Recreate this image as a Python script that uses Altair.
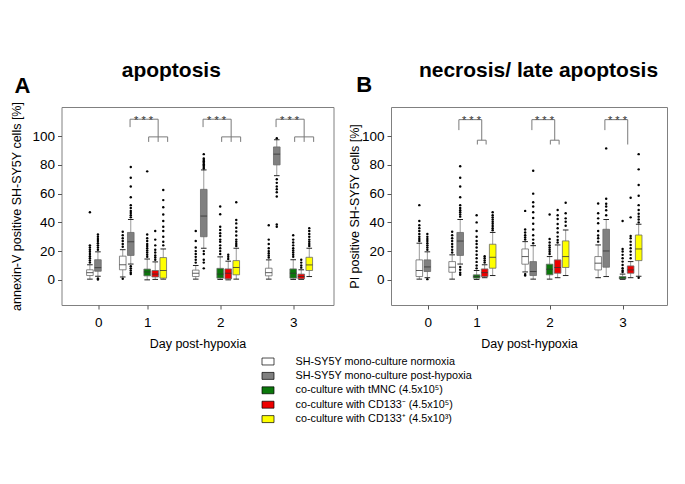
import altair as alt
import pandas as pd

FONT = "Liberation Sans"

groups = ["SH-SY5Y mono-culture normoxia", "SH-SY5Y mono-culture post-hypoxia",
          "co-culture with tMNC (4.5x10⁵)", "co-culture with CD133⁻ (4.5x10⁵)",
          "co-culture with CD133⁺ (4.5x10³)"]
colors = ["#ffffff", "#808080", "#0b780b", "#ee0000", "#ffff00"]

day_labels = ["0", "1", "2", "3"]
day_center = [0.55, 1.0, 2.0, 3.0]
tick_pos = [0.33, 1.0, 2.0, 3.0]
group_offset = [-0.335, -0.225, 0.0, 0.11, 0.22]

# box statistics per day: [whisker low, q1, median, q3, whisker high]
A_normoxia = [[0.5, 3, 5, 7, 10.5], [2, 7, 10.5, 16.5, 21], [0.5, 2.3, 4.6, 6.8, 10], [0.5, 2.8, 5, 8.1, 13.9]]
A_hypoxia = [[2.5, 6, 8.5, 14, 19.5], [11, 17, 26.5, 33, 42], [22, 30, 44.4, 63, 76.5], [72.5, 80, 87.5, 92.5, 97.5]]
A_tmnc = [None, [0, 2.8, 5.5, 7.5, 14.5], [0.3, 1.2, 4, 8, 16], [0.3, 1.2, 4.6, 7.6, 14]]
A_cd133neg = [None, [0.3, 2, 4, 6.5, 12.5], [0, 0.7, 4.6, 7.6, 13], [0.3, 0.7, 2.3, 4, 7]]
A_cd133pos = [None, [0.5, 1.2, 6.5, 15.5, 21.5], [0.5, 3.5, 8.6, 13.4, 22], [2.3, 6.5, 10.4, 15.7, 22]]

A_normoxia_out = [[12, 13.5, 15, 16.5, 18, 19.5, 21, 22.5, 24, 47], [23, 25, 27, 29, 31, 33.5, 0.8],
                  [12, 14, 16, 18, 20, 22.5, 27, 34], [15.5, 17, 18.5, 20, 22, 25, 28, 38]]
A_hypoxia_out = [[21, 22.5, 24, 25.5, 27, 28.5, 30, 31.5, 1, 0.3],
                 [43.5, 45, 46.5, 48, 50, 52, 57.5, 65, 71, 78.5, 9.5, 8, 6.5, 5, 4],
                 [77.5, 78.5, 79.5, 80.5, 81.5, 82.5, 83.5, 84.5, 87.5, 20, 18, 14, 12, 8],
                 [98.5, 70, 67.5, 65, 63, 61, 58, 38.5, 37]]
A_tmnc_out = [[], [16, 17.5, 19, 20.5, 22, 23.5, 25, 27, 29, 31.5, 75.5],
              [18, 20, 22, 24, 26.5, 28, 30.5, 32.5, 34.7, 37, 45.6, 51],
              [16, 17.5, 19, 20.5, 22, 24, 26, 28, 31]]
A_cd133neg_out = [[], [14, 15.5, 17, 19, 21, 24, 28, 34], [14.5, 16, 17.5], [8.5, 10, 12, 14]]
A_cd133pos_out = [[], [24, 26.5, 30, 34, 37, 41, 45.5, 50.5, 55.5, 62.5],
                  [23.5, 25, 26.5, 28, 30.8, 33.6, 36.3, 39.3, 41.7, 54],
                  [23.5, 25, 26.5, 28, 30, 32, 34, 36]]

B_normoxia = [[0.5, 2.3, 6.5, 13.9, 25.5], [0.5, 5.3, 8.8, 12.7, 17.4], [5.5, 10.9, 16.2, 21.5, 26.6], [1.5, 6.9, 11.6, 16.2, 24.3]]
B_hypoxia = [[1.5, 5.8, 9, 13.9, 19.5], [11, 17, 27, 33, 42], [0.5, 3, 5.8, 12.7, 23.8], [2.3, 8.8, 20.1, 35.2, 42]]
B_tmnc = [None, [0.3, 1.2, 2.3, 3.5, 6.5], [0.5, 3.5, 7.4, 10.9, 16.2], [0.3, 0.7, 1.2, 2.3, 4]]
B_cd133neg = [None, [1.5, 2.3, 5, 7.6, 10.5], [1.5, 4.6, 8.6, 13.9, 24.3], [1.5, 4.6, 6.9, 9.7, 12.7]]
B_cd133pos = [None, [3, 8.1, 15.7, 24.8, 33], [3, 8.6, 16.2, 27.1, 34.7], [2.5, 13.4, 21.5, 31.2, 38.7]]

B_normoxia_out = [[27, 28.5, 30, 32, 34, 36, 38, 41, 52], [19, 21, 23, 25, 27, 29, 31, 33.5],
                  [28, 29.5, 31, 33, 35, 48, 4, 3], [26.6, 29, 30.8, 34, 39.4, 42.8, 46.3, 53.2]]
B_hypoxia_out = [[21, 22.5, 24, 25.5, 27, 28.5, 30, 32, 0.5],
                 [44, 45.5, 47, 48.5, 50, 52, 57.5, 65, 71, 79, 9, 7, 5, 3.5],
                 [25.5, 28, 31, 35, 39, 43, 47, 51, 54, 60, 76],
                 [45, 48.5, 51, 53, 56.5, 91.5]]
B_tmnc_out = [[], [8, 10, 12.5, 15, 17.5, 20, 22.5, 25, 27, 30, 34, 40, 45],
              [18, 19.5, 21, 22.5, 24, 26, 28.5, 45.5],
              [5.5, 6.5, 8.1, 10.4, 12.7, 15, 17.4, 19.7, 21.5, 41]]
B_cd133neg_out = [[], [12, 13.5, 15, 16.5], [26, 27.8, 30.1, 32.9, 35.9, 38.9, 42.4, 45, 48.6],
                  [15, 17.4, 19.7, 22, 24.3, 26.6, 29, 30.6, 43.5, 57.2]]
B_cd133pos_out = [[], [34.5, 36, 37.5, 39, 40.5, 42, 43.5, 45, 47], [37.7, 40.5, 42.8, 46.3, 53.7],
                  [40, 42, 44, 46, 48.6, 52, 58.6, 66, 76.9, 87.5, 1.5]]

sig_days = [1, 2, 3]


def build(stats_list, outs_list):
    rows, pts = [], []
    for gi, (stats, outs) in enumerate(zip(stats_list, outs_list)):
        for d, s in enumerate(stats):
            if s is None:
                continue
            x = day_center[d] + group_offset[gi]
            rows.append(dict(group=groups[gi], x=x, lo=s[0], q1=s[1], med=s[2], q3=s[3], hi=s[4]))
            for v in outs[d]:
                pts.append(dict(x=x, v=v))
    return pd.DataFrame(rows), pd.DataFrame(pts)


def brackets_A():
    segs, stars = [], []
    for d in sig_days:
        left, stem, c1, c2 = d - 0.235, d + 0.15, d + 0.02, d + 0.28
        segs += [dict(x=left, x2=left, y=106.3, y2=111.8), dict(x=left, x2=stem, y=111.8, y2=111.8),
                 dict(x=stem, x2=stem, y=96, y2=111.8), dict(x=c1, x2=c2, y=99.5, y2=99.5),
                 dict(x=c1, x2=c1, y=96, y2=99.5), dict(x=c2, x2=c2, y=96, y2=99.5)]
        stars.append(dict(x=d - 0.05, y=108.6))
    return pd.DataFrame(segs), pd.DataFrame(stars)


def brackets_B():
    segs, stars = [], []
    for d in sig_days:
        left, stem, c1, c2 = d - 0.243, d + 0.07, d + 0.01, d + 0.13
        segs += [dict(x=left, x2=left, y=104.2, y2=111.5), dict(x=left, x2=stem, y=111.5, y2=111.5),
                 dict(x=stem, x2=stem, y=94.2 if d == 3 else 97.2, y2=111.5)]
        if d != 3:
            segs += [dict(x=c1, x2=c2, y=97.2, y2=97.2), dict(x=c1, x2=c1, y=94.2, y2=97.2),
                     dict(x=c2, x2=c2, y=94.2, y2=97.2)]
        stars.append(dict(x=d - 0.07, y=108.3))
    return pd.DataFrame(segs), pd.DataFrame(stars)


def panel(stats, outs, br, xdom, width, ytitle, ytpad, letter, letter_x, letter_y, title, title_x, legend):
    box_df, pt_df = build(stats, outs)
    seg_df, star_df = br
    xaxis = alt.Axis(values=tick_pos, labelExpr="'' + round(datum.value)", title="Day post-hypoxia",
                     labelPadding=6, titlePadding=9)
    yaxis = alt.Axis(values=[0, 20, 40, 60, 80, 100], title=ytitle, labelPadding=3, titlePadding=ytpad)
    xs = alt.Scale(domain=xdom, nice=False, zero=False)
    ys = alt.Scale(domain=[-17.5, 120.3], nice=False, zero=False)

    def X(f):
        return alt.X(f, type="quantitative", scale=xs, axis=xaxis)

    def Y(f):
        return alt.Y(f, type="quantitative", scale=ys, axis=yaxis)

    base = alt.Chart(box_df)
    whisk = base.mark_rule(color="#9a9a9a", strokeWidth=1).encode(x=X("x"), y=Y("lo"), y2="hi")
    cap_lo = base.mark_rule(color="#222222", strokeWidth=1, xOffset=-2.8, x2Offset=2.8).encode(
        x=X("x"), x2="x", y=Y("lo"))
    cap_hi = base.mark_rule(color="#222222", strokeWidth=1, xOffset=-2.8, x2Offset=2.8).encode(
        x=X("x"), x2="x", y=Y("hi"))
    box = base.mark_rect(stroke="#6a6a6a", strokeWidth=0.8, xOffset=-3.3, x2Offset=3.3).encode(
        x=X("x"), x2="x", y=Y("q1"), y2="q3",
        fill=alt.Fill("group:N", scale=alt.Scale(domain=groups, range=colors), legend=legend))
    med = base.mark_rule(color="#333333", strokeWidth=0.8, xOffset=-3.3, x2Offset=3.3).encode(
        x=X("x"), x2="x", y=Y("med"))
    pts = alt.Chart(pt_df).mark_circle(size=6, color="black", opacity=1).encode(x=X("x"), y=Y("v"))
    segs = alt.Chart(seg_df).mark_rule(color="#7a7a7a", strokeWidth=1).encode(
        x=X("x"), x2="x2", y=Y("y"), y2="y2")
    stars = alt.Chart(star_df).mark_text(text="* * *", fontSize=11, font=FONT, color="#333333",
                                         baseline="alphabetic").encode(x=X("x"), y=Y("y"))
    let = alt.Chart(pd.DataFrame({"t": [letter]})).mark_text(
        fontSize=22, fontWeight="bold", font=FONT, align="center", baseline="alphabetic", color="black").encode(
        text="t:N", x=alt.value(letter_x), y=alt.value(letter_y))
    ttl = alt.Chart(pd.DataFrame({"t": [title]})).mark_text(
        fontSize=21, fontWeight="bold", font=FONT, align="center", baseline="alphabetic", color="black").encode(
        text="t:N", x=alt.value(title_x), y=alt.value(-30.3))
    return alt.layer(whisk, cap_lo, cap_hi, box, med, pts, segs, stars, let, ttl).properties(
        width=width, height=198)


legend = alt.Legend(title=None, orient="none", legendX=200, legendY=248,
                    symbolType="M-1,-0.58H1V0.58H-1Z", symbolSize=144, symbolStrokeColor="black",
                    symbolStrokeWidth=0.7, labelFont=FONT, labelFontSize=10.8, labelOffset=21,
                    rowPadding=2.4, labelColor="black", labelLimit=400)

pA = panel([A_normoxia, A_hypoxia, A_tmnc, A_cd133neg, A_cd133pos],
           [A_normoxia_out, A_hypoxia_out, A_tmnc_out, A_cd133neg_out, A_cd133pos_out],
           brackets_A(), [-0.174, 3.552], 272, "annexin-V positive SH-SY5Y cells [%]", 8,
           "A", -39, -14.3, "apoptosis", 109.8, legend)
pB = panel([B_normoxia, B_hypoxia, B_tmnc, B_cd133neg, B_cd133pos],
           [B_normoxia_out, B_hypoxia_out, B_tmnc_out, B_cd133neg_out, B_cd133pos_out],
           brackets_B(), [-0.173, 3.608], 276, "PI positive SH-SY5Y cells [%]", 0,
           "B", -26.7, -15.3, "necrosis/ late apoptosis", 147.5, None)

chart = alt.hconcat(pA, pB, spacing=12.5).properties(
    padding={"left": 1.5, "top": 51, "right": 5, "bottom": 5}
).configure_view(stroke="#808080", strokeWidth=1).configure_axis(
    domain=False, grid=False, labelFont=FONT, titleFont=FONT, labelFontSize=13.5, titleFontSize=12.5,
    titleFontWeight="normal", tickColor="#555555", tickSize=4, labelColor="black", titleColor="black"
)

chart.save("out.html", embed_options={"renderer": "svg", "actions": False})
